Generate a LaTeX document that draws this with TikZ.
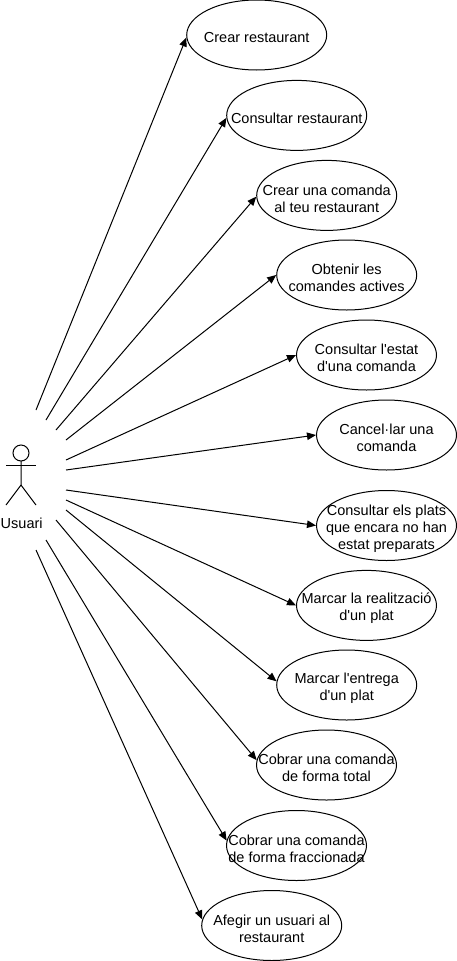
\documentclass[tikz,border=0pt]{standalone}
\usepackage{fontspec}
\newfontfamily\labelfont{Liberation Sans}
\usetikzlibrary{shapes.geometric}
\usetikzlibrary{arrows.meta}
\tikzset{every node/.style={font=\labelfont\fontsize{14.5}{17}\selectfont}}
\tikzset{usecase/.style={ellipse, draw, line width=1, minimum width=140, minimum height=70, inner sep=0}}
\tikzset{casetext/.style={align=center, inner sep=0, yshift=-3}}
\tikzset{assoc/.style={line width=1, -{Triangle[length=9, width=7.5]}}}

\begin{document}
\begin{tikzpicture}[x=1pt, y=-1pt]

\useasboundingbox (0,0) rectangle (457,961);

% casos d'us
\node[usecase, label={[casetext]center:{Crear restaurant}}] (crear) at (256.7,35) {};
\node[usecase, label={[casetext]center:{Consultar restaurant}}] (consultar) at (296.7,115.4) {};
\node[usecase, label={[casetext]center:{Crear una comanda\\al teu restaurant}}] (comanda) at (326.7,195.4) {};
\node[usecase, label={[casetext]center:{Obtenir les\\comandes actives}}] (actives) at (346.7,275) {};
\node[usecase, label={[casetext]center:{Consultar l'estat\\d'una comanda}}] (estat) at (366.5,355) {};
\node[usecase, label={[casetext]center:{Cancel·lar una\\comanda}}] (cancel) at (386.5,435) {};
\node[usecase, label={[casetext]center:{Consultar els plats\\que encara no han\\estat preparats}}] (plats) at (386.5,525.5) {};
\node[usecase, label={[casetext]center:{Marcar la realització\\d'un plat}}] (realitzacio) at (366.5,605.4) {};
\node[usecase, label={[casetext]center:{Marcar l'entrega\\d'un plat}}] (entrega) at (346.7,685) {};
\node[usecase, label={[casetext]center:{Cobrar una comanda\\de forma total}}] (total) at (326.5,765) {};
\node[usecase, label={[casetext]center:{Cobrar una comanda\\de forma fraccionada}}] (fraccio) at (296.5,845.5) {};
\node[usecase, label={[casetext]center:{Afegir un usuari al\\restaurant}}] (afegir) at (271.7,925.5) {};

% actor
\draw[line width=1] (21,453) circle[radius=8];
\draw[line width=1] (21,461) -- (21,485) -- (6,505);
\draw[line width=1] (21,485) -- (36,505);
\draw[line width=1] (6,465) -- (36,465);
\node (usuari) at (21.7,523) {Usuari};

% sortides
\coordinate (U1) at (36,410);
\coordinate (U2) at (46,420);
\coordinate (U3) at (56,430);
\coordinate (U4) at (66,440);
\coordinate (U5) at (66,460);
\coordinate (U6) at (66,470);
\coordinate (U7) at (66,490);
\coordinate (U8) at (66,500);
\coordinate (U9) at (66,510);
\coordinate (U10) at (56,520);
\coordinate (U11) at (46,540);
\coordinate (U12) at (36,550);

\draw[assoc] (U1) -- (crear.182.5);
\draw[assoc] (U2) -- (consultar.182);
\draw[assoc] (U3) -- (comanda.181.4);
\draw[assoc] (U4) -- (actives.180.5);
\draw[assoc] (U5) -- (estat.west);
\draw[assoc] (U6) -- (cancel.west);
\draw[assoc] (U7) -- (plats.west);
\draw[assoc] (U8) -- (realitzacio.west);
\draw[assoc] (U9) -- (entrega.177.3);
\draw[assoc] (U10) -- (total.176.7);
\draw[assoc] (U11) -- (fraccio.176);
\draw[assoc] (U12) -- (afegir.175.5);

\end{tikzpicture}
\end{document}
